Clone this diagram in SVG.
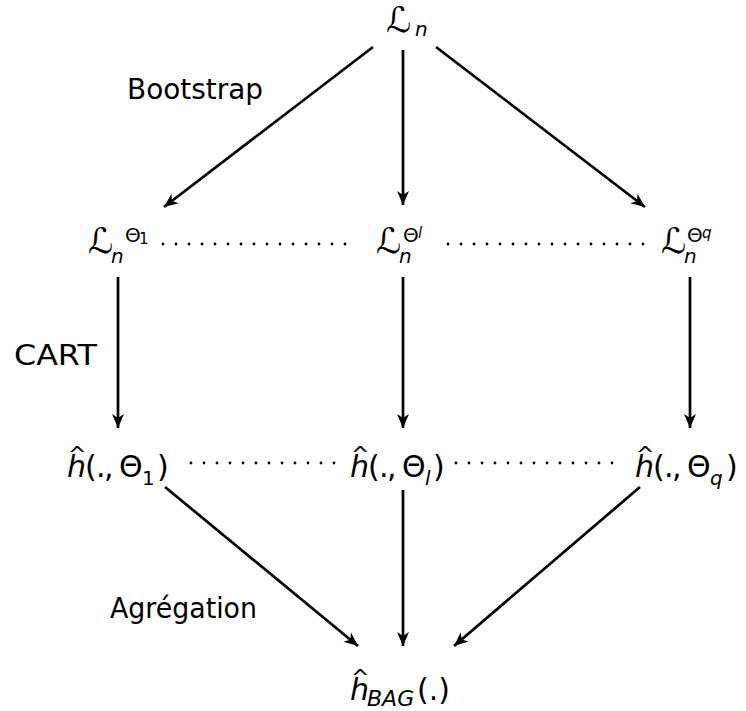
<svg xmlns="http://www.w3.org/2000/svg" width="746" height="711" viewBox="0 0 746 711">
<defs>
<style>
text{font-family:"DejaVu Sans","Liberation Sans",sans-serif;fill:#000}
.lbl{font-size:28px}
.m{font-size:30px}
.L{font-size:35px;font-style:italic}
.it{font-style:italic}
.sub{font-size:20px}
.sup{font-size:20px}
.ss{font-size:15px}
.hat{font-size:22px;font-style:normal}
.arr{stroke:#000;stroke-width:2.7;fill:none;marker-end:url(#ah)}
.dot{stroke:#000;stroke-width:2.8;stroke-linecap:round;stroke-dasharray:0 13;fill:none}
</style>
<marker id="ah" markerWidth="16" markerHeight="14" viewBox="-15 -7 16 14" refX="0" refY="0" orient="auto" markerUnits="userSpaceOnUse">
<path d="M0,0 L-14,-6 L-10,0 L-14,6 Z" fill="#000"/>
</marker>
</defs>
<rect width="746" height="711" fill="#fff"/>
<g id="connectors">
<path class="arr" d="M373,47 L164,207"/>
<path class="arr" d="M403,50 L403,205"/>
<path class="arr" d="M436,47 L645,207"/>
<path class="arr" d="M118,277 L118,428"/>
<path class="arr" d="M403,277 L403,428"/>
<path class="arr" d="M690,277 L690,428"/>
<path class="arr" d="M165,487 L358,646"/>
<path class="arr" d="M403,490 L403,646"/>
<path class="arr" d="M640,487 L454,646"/>
<path class="dot" d="M163,244 L358,244"/>
<path class="dot" d="M448,244 L645,244"/>
<path class="dot" d="M191,463 L337,463"/>
<path class="dot" d="M456,463 L620,463"/>
</g>
<g id="labels">
<text class="lbl" x="127" y="99" textLength="136" lengthAdjust="spacingAndGlyphs">Bootstrap</text>
<text class="lbl" x="14" y="365" textLength="83" lengthAdjust="spacingAndGlyphs">CART</text>
<text class="lbl" x="110" y="618" textLength="147" lengthAdjust="spacingAndGlyphs">Agrégation</text>
</g>
<g id="node-Ln">
<text class="L" x="386" y="32">ℒ</text>
<text class="sub it" x="415" y="36">n</text>
</g>
<g id="node-Ln-theta1">
<text class="L" x="88" y="253">ℒ</text>
<text class="sub it" x="111" y="263">n</text>
<text class="sup" x="125" y="242">Θ</text>
<text class="ss" x="139" y="244">1</text>
</g>
<g id="node-Ln-thetal">
<text class="L" x="376" y="253">ℒ</text>
<text class="sub it" x="399" y="263">n</text>
<text class="sup" x="403" y="242">Θ</text>
<text class="ss it" x="418" y="238">l</text>
</g>
<g id="node-Ln-thetaq">
<text class="L" x="661" y="253">ℒ</text>
<text class="sub it" x="684" y="263">n</text>
<text class="sup" x="687" y="242">Θ</text>
<text class="ss it" x="702" y="238">q</text>
</g>
<g id="node-h-theta1">
<text class="m"><tspan class="it" x="67" y="477">h</tspan><tspan class="hat" x="68" y="462">^</tspan><tspan x="85" y="477">(</tspan><tspan x="96">.</tspan><tspan x="104">,</tspan><tspan x="119">Θ</tspan><tspan class="sub" x="142" y="485">1</tspan><tspan x="157" y="477">)</tspan></text>
</g>
<g id="node-h-thetal">
<text class="m"><tspan class="it" x="350" y="477">h</tspan><tspan class="hat" x="351" y="462">^</tspan><tspan x="368" y="477">(</tspan><tspan x="379">.</tspan><tspan x="387">,</tspan><tspan x="402">Θ</tspan><tspan class="sub it" x="425" y="485">l</tspan><tspan x="433" y="477">)</tspan></text>
</g>
<g id="node-h-thetaq">
<text class="m"><tspan class="it" x="635" y="477">h</tspan><tspan class="hat" x="636" y="462">^</tspan><tspan x="653" y="477">(</tspan><tspan x="664">.</tspan><tspan x="672">,</tspan><tspan x="687">Θ</tspan><tspan class="sub it" x="710" y="485">q</tspan><tspan x="726" y="477">)</tspan></text>
</g>
<g id="node-hbag">
<text class="m"><tspan class="it" x="350" y="700">h</tspan><tspan class="hat" x="351" y="685">^</tspan><tspan class="it" x="367" y="706" style="font-size:22px">BAG</tspan><tspan x="417" y="700">(.)</tspan></text>
</g>
</svg>
